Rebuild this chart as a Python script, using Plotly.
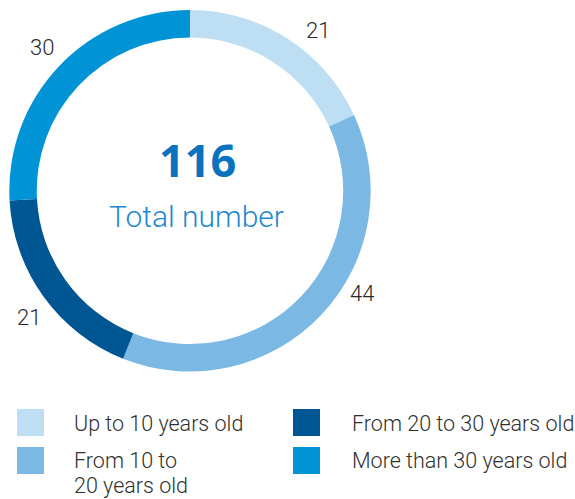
import math
import plotly.graph_objects as go

# Vehicle age breakdown
categories = ["Up to 10 years old", "From 10 to 20 years old",
              "From 20 to 30 years old", "More than 30 years old"]
legend_text = ["Up to 10 years old", "From 10 to<br>20 years old",
               "From 20 to 30 years old", "More than 30 years old"]
counts = [21, 44, 21, 30]
colors = ["#BEDEF3", "#7BB8E4", "#005593", "#0093D6"]

total = sum(counts)

W, H = 575, 499


def px(x):
    return x / W


def py(y):
    return 1 - y / H


# ring geometry (pixels)
cx, cy, r_out = 190.0, 190.8, 180.7

fig = go.Figure(
    go.Pie(
        labels=categories,
        values=counts,
        sort=False,
        direction="clockwise",
        rotation=0,
        hole=0.848,
        marker=dict(colors=colors, line=dict(width=0)),
        textinfo="none",
        hoverinfo="label+value",
        showlegend=False,
        domain=dict(x=[px(cx - r_out), px(cx + r_out)],
                    y=[py(cy + r_out), py(cy - r_out)]),
    )
)

annotations = []

# value labels around the ring, placed along each slice's mid-angle
label_nudge_deg = [6, -12.5, -2.5, 0.8]
label_r = [205, 200, 205, 206]
acc = 0
for v, nudge, rr in zip(counts, label_nudge_deg, label_r):
    mid = (acc + v / 2) / total * 360 + nudge
    acc += v
    a = math.radians(mid)
    lx = cx + rr * math.sin(a)
    ly = cy - rr * math.cos(a)
    annotations.append(dict(
        x=px(lx), y=py(ly), xref="paper", yref="paper",
        text=str(v), showarrow=False, xanchor="center", yanchor="middle",
        font=dict(family="Roboto", size=22, color="#2a2a2a", weight=300),
    ))

# centre text
annotations.append(dict(
    x=px(197), y=py(159), xref="paper", yref="paper",
    text=f"<b>{total}</b>", showarrow=False, xanchor="center", yanchor="middle",
    font=dict(family="Open Sans", size=45, color="#0B72BE"),
))
annotations.append(dict(
    x=px(196.5), y=py(216), xref="paper", yref="paper",
    text="Total number", showarrow=False, xanchor="center", yanchor="middle",
    font=dict(family="Roboto", size=30, color="#2388CF", weight=300),
))

# legend: two columns of swatches with labels
shapes = []
col_sq_x = [17, 293]
col_txt_x = [72, 350]
row_sq_y = [409, 447]
row_txt_y = [423, 460]
line_gap = 25
sq = 27
for i, (txt, c) in enumerate(zip(legend_text, colors)):
    col, row = i // 2, i % 2
    x0, y0 = col_sq_x[col], row_sq_y[row]
    shapes.append(dict(
        type="rect", xref="paper", yref="paper",
        x0=px(x0), x1=px(x0 + sq), y0=py(y0 + sq), y1=py(y0),
        fillcolor=c, line=dict(width=0), layer="above",
    ))
    for k, line in enumerate(txt.split("<br>")):
        annotations.append(dict(
            x=px(col_txt_x[col]), y=py(row_txt_y[row] + k * line_gap),
            xref="paper", yref="paper",
            text=line, showarrow=False, xanchor="left", yanchor="middle",
            font=dict(family="Roboto", size=21.5, color="#303030", weight=300),
        ))

fig.update_layout(
    width=W, height=H,
    margin=dict(l=0, r=0, t=0, b=0),
    paper_bgcolor="white",
    plot_bgcolor="white",
    annotations=annotations,
    shapes=shapes,
)

fig.write_html("out.html")
